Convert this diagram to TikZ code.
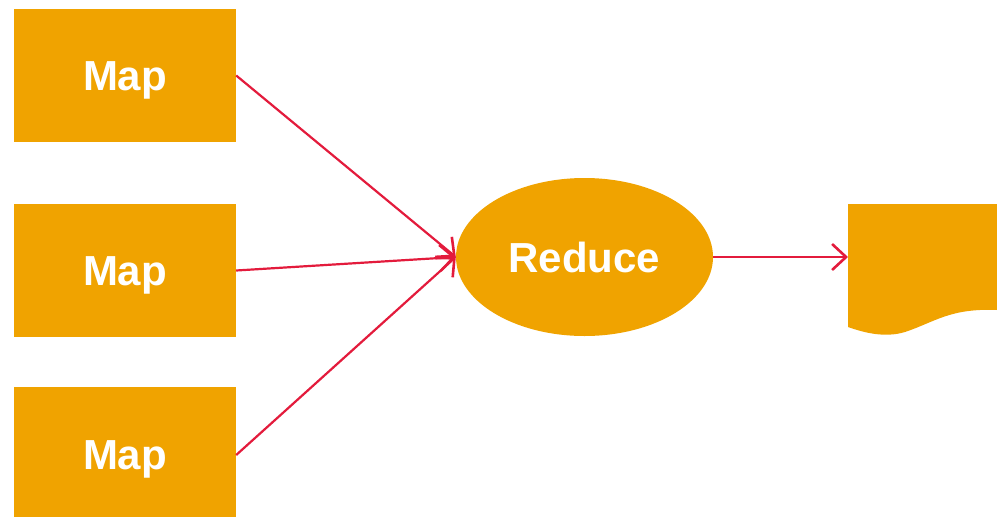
\documentclass[tikz,border=0pt]{standalone}
\usepackage{fontspec}
\setmainfont{Liberation Sans}
\usetikzlibrary{shapes.geometric,arrows.meta}
\definecolor{boxorange}{HTML}{F0A300}
\definecolor{linkred}{HTML}{E31B3C}
\tikzset{
  mapbox/.style={rectangle, fill=boxorange, draw=none, minimum width=222pt, minimum height=133pt, inner sep=0pt, text depth=0pt, text=white, font=\bfseries\fontsize{42}{42}\selectfont},
  redbox/.style={ellipse, fill=boxorange, draw=none, minimum width=257pt, minimum height=158pt, inner sep=0pt, text depth=0pt, text=white, font=\bfseries\fontsize{42}{42}\selectfont},
  link/.style={draw=linkred, line width=2.2pt, -{Straight Barb[length=14pt,width=26pt,line width=2.6pt]}}
}
\begin{document}
\begin{tikzpicture}[x=1pt,y=-1pt]
\useasboundingbox (0,0) rectangle (997,517);
\node[mapbox] (m1) at (125,75.5) {\raisebox{-1.5pt}{Map}};
\node[mapbox] (m2) at (125,270.5) {\raisebox{-1.5pt}{Map}};
\begin{scope}
\clip (0,0) rectangle (997,517);
\node[mapbox, minimum height=136pt] (m3) at (125,455) {Map};
\end{scope}
\node[redbox] (r) at (584.5,257) {Reduce};
\fill[boxorange] (848,204) -- (997,204) -- (997,310)
  .. controls (950,308) and (935,322) .. (905,332)
  .. controls (885,338) and (865,333) .. (848,327) -- cycle;
\coordinate (doc) at (848,257);
\draw[link] (m1.east) -- (r.west);
\draw[link] (m2.east) -- (r.west);
\draw[link] (m3.east) -- (r.west);
\draw[link] (r.east) -- (doc);
\end{tikzpicture}
\end{document}
